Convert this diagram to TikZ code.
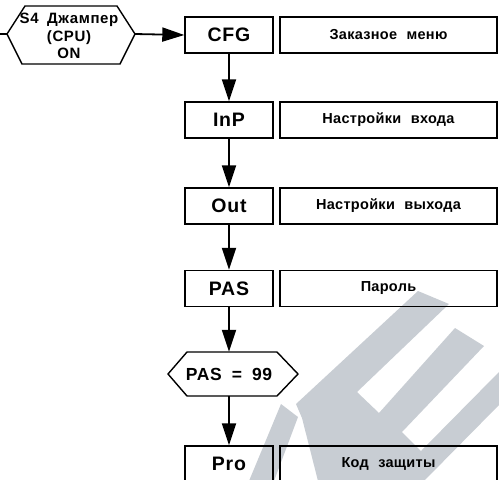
\documentclass[tikz,border=0pt]{standalone}
\usepackage{fontspec}
\setmainfont{Liberation Sans}
\newfontfamily\keyfont[LetterSpace=4,WordSpace=1.8]{Liberation Sans}
\newfontfamily\descfont[LetterSpace=2,WordSpace=2.2]{Liberation Sans}
\usetikzlibrary{arrows.meta}
\definecolor{markgray}{RGB}{200,205,211}
\begin{document}
\begin{tikzpicture}[x=1pt,y=-1pt,
  keybox/.style={draw, line width=1.4pt, minimum width=88pt, minimum height=36pt,
    inner sep=0pt, font=\fontsize{19.5}{19.5}\selectfont\keyfont\bfseries},
  descbox/.style={draw, line width=1.8pt, minimum width=217pt, minimum height=36pt,
    inner sep=0pt, font=\fontsize{14.5}{14.5}\selectfont\descfont\bfseries},
  hexframe/.style={draw, line width=1.4pt, line join=miter},
  hextext/.style={inner sep=0pt, align=center},
  flow/.style={-{Triangle[length=22pt,width=14pt]}, line width=1.8pt},
  mark/.style={fill=markgray, draw=none}]
\useasboundingbox (0,0) rectangle (499,480);

% background logo
\fill[markgray] (281,404) -- (298,417) -- (274,481) -- (249,481) -- cycle;
\fill[markgray] (296,404) -- (418,291) -- (449,304) -- (357,392) -- (379,413)
  -- (455,328) -- (484,346) -- (402,432) -- (421,451) -- (499,372) -- (499,405)
  -- (424,481) -- (318,481) -- (302,418) -- cycle;

% jumper condition
\coordinate (jin) at (0,34);
\draw[hexframe] (7,34) -- (25,6) -- (117,6) -- (135,34) -- (120,64) -- (22,64) -- cycle;
\node[hextext, font=\fontsize{15}{17.5}\selectfont\keyfont\bfseries] (jtext) at (69,36)
  {S4 Джампер\\(CPU)\\ON};
\coordinate (jw) at (7,34);
\coordinate (je) at (135,34);

% menu chain
\node[keybox] (cfg) at (229,35) {CFG};
\node[keybox] (inp) at (229,120) {InP};
\node[keybox] (out) at (229,206) {Out};
\node[keybox] (pas) at (229,288.5) {PAS};
\node[keybox] (pro) at (229,464) {Pro};

\node[descbox] (dcfg) at (388.5,35) {Заказное меню};
\node[descbox] (dinp) at (388.5,120) {Настройки входа};
\node[descbox] (dout) at (388.5,206) {Настройки выхода};
\node[descbox] (dpas) at (388.5,288.5) {Пароль};
\node[descbox] (dpro) at (388.5,464) {Код защиты};

% password check
\draw[hexframe] (168,374) -- (187,352) -- (277,352) -- (298,374) -- (277,396) -- (187,396) -- cycle;
\node[hextext, minimum width=130pt, minimum height=44pt,
  font=\fontsize{17.5}{17.5}\selectfont\keyfont\bfseries] (pw) at (229,374) {PAS = 99};

% connectors
\draw[line width=1.8pt] (jin) -- (jw);
\draw[flow] (je) -- (cfg.west);
\draw[flow] (cfg) -- (inp);
\draw[flow] (inp) -- (out);
\draw[flow] (out) -- (pas);
\draw[flow] (pas.south) -- (pw.north);
\draw[flow] (pw.south) -- (pro.north);
\end{tikzpicture}
\end{document}
